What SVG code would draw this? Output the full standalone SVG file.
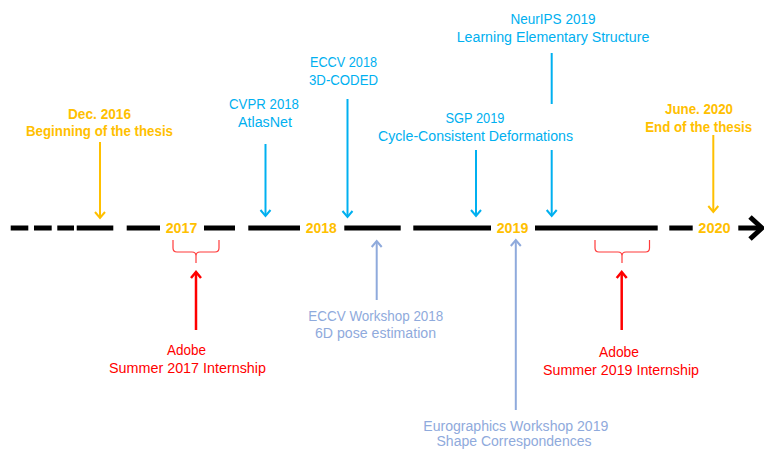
<svg xmlns="http://www.w3.org/2000/svg" width="764" height="450" viewBox="0 0 764 450">
<style>
text{font-family:"Liberation Sans",Arial,sans-serif;font-size:14px;text-anchor:middle}
.b{font-weight:bold}
.or{fill:#FFC000}
.bl{fill:#00B0F0}
.lb{fill:#8FAADC}
.rd{fill:#FF0000}
.tl{stroke:#000;stroke-width:5;fill:none}
.cor{stroke:#FFC000;stroke-width:2;fill:none}
.cbl{stroke:#00B0F0;stroke-width:2;fill:none}
.clb{stroke:#8FAADC;stroke-width:2;fill:none}
.crd{stroke:#FF0000;stroke-width:2.5;fill:none}
.brace{stroke:#FF3B3B;stroke-width:1.2;fill:none}
</style>
<defs>
<marker id="aor" markerUnits="userSpaceOnUse" viewBox="-9 -7 11 14" markerWidth="11" markerHeight="14" refX="0" refY="0" orient="auto"><path d="M-6,-5 L0,0 L-6,5" fill="none" stroke="#FFC000" stroke-width="2"/></marker>
<marker id="abl" markerUnits="userSpaceOnUse" viewBox="-9 -7 11 14" markerWidth="11" markerHeight="14" refX="0" refY="0" orient="auto"><path d="M-6,-5 L0,0 L-6,5" fill="none" stroke="#00B0F0" stroke-width="2"/></marker>
<marker id="alb" markerUnits="userSpaceOnUse" viewBox="-9 -7 11 14" markerWidth="11" markerHeight="14" refX="0" refY="0" orient="auto"><path d="M-6,-5 L0,0 L-6,5" fill="none" stroke="#8FAADC" stroke-width="2"/></marker>
<marker id="ard" markerUnits="userSpaceOnUse" viewBox="-9 -7 11 14" markerWidth="11" markerHeight="14" refX="0" refY="0" orient="auto"><path d="M-6,-5 L0,0 L-6,5" fill="none" stroke="#FF0000" stroke-width="2.5"/></marker>
</defs>
<rect width="764" height="450" fill="#fff"/>

<g id="timeline">
<path class="tl" d="M10.7,228H28.3 M34,228H51.7 M57.3,228H74 M76.7,228H113.3 M126.7,228H160 M204,228H235 M248.3,228H300 M344.3,228H400.7 M413.3,228H491 M535,228H657.7 M669.3,228H692.7 M738.3,228H761"/>
<polyline class="tl" points="750,217 762,228 750,239" stroke-linejoin="miter"/>
</g>

<g id="connectors">
<line class="cor" x1="100" y1="142" x2="100" y2="218" marker-end="url(#aor)"/>
<line class="cbl" x1="265.5" y1="144" x2="265.5" y2="216" marker-end="url(#abl)"/>
<line class="cbl" x1="347.5" y1="99" x2="347.5" y2="217" marker-end="url(#abl)"/>
<line class="cbl" x1="476" y1="150" x2="476" y2="216" marker-end="url(#abl)"/>
<line class="cbl" x1="551.7" y1="53" x2="551.7" y2="104"/>
<line class="cbl" x1="551.7" y1="150" x2="551.7" y2="216" marker-end="url(#abl)"/>
<line class="cor" x1="713.3" y1="135" x2="713.3" y2="212" marker-end="url(#aor)"/>
<line class="clb" x1="376.7" y1="300" x2="376.7" y2="241" marker-end="url(#alb)"/>
<line class="clb" x1="515.8" y1="410" x2="515.8" y2="240" marker-end="url(#alb)"/>
<line class="crd" x1="196" y1="330" x2="196" y2="272" marker-end="url(#ard)"/>
<line class="crd" x1="621.7" y1="330" x2="621.7" y2="272" marker-end="url(#ard)"/>
<path class="brace" d="M173,240 V248 Q173,252 177,252 H192 Q196,252 196,256 V263 M196,256 Q196,252 200,252 H215 Q219,252 219,248 V240"/>
<path class="brace" d="M595,240 V248 Q595,252 599,252 H618 Q622,252 622,256 V263 M622,256 Q622,252 626,252 H645.5 Q649.5,252 649.5,248 V240"/>
</g>

<g id="year-2017"><text class="b or" x="181.5" y="233" textLength="31.6" lengthAdjust="spacingAndGlyphs">2017</text></g>
<g id="year-2018"><text class="b or" x="321.2" y="233" textLength="31" lengthAdjust="spacingAndGlyphs">2018</text></g>
<g id="year-2019"><text class="b or" x="512.5" y="233" textLength="31.6" lengthAdjust="spacingAndGlyphs">2019</text></g>
<g id="year-2020"><text class="b or" x="714.5" y="233" textLength="32.4" lengthAdjust="spacingAndGlyphs">2020</text></g>

<g id="thesis-start">
<text class="b or" x="99.5" y="119" textLength="63" lengthAdjust="spacingAndGlyphs">Dec. 2016</text>
<text class="b or" x="99.5" y="136" textLength="147" lengthAdjust="spacingAndGlyphs">Beginning of the thesis</text>
</g>
<g id="cvpr2018">
<text class="bl" x="264" y="109" textLength="70" lengthAdjust="spacingAndGlyphs">CVPR 2018</text>
<text class="bl" x="265" y="127" textLength="54" lengthAdjust="spacingAndGlyphs">AtlasNet</text>
</g>
<g id="eccv2018">
<text class="bl" x="343.5" y="67" textLength="67" lengthAdjust="spacingAndGlyphs">ECCV 2018</text>
<text class="bl" x="343.5" y="85" textLength="69" lengthAdjust="spacingAndGlyphs">3D-CODED</text>
</g>
<g id="sgp2019">
<text class="bl" x="475" y="123" textLength="59" lengthAdjust="spacingAndGlyphs">SGP 2019</text>
<text class="bl" x="475.5" y="141" textLength="195" lengthAdjust="spacingAndGlyphs">Cycle-Consistent Deformations</text>
</g>
<g id="neurips2019">
<text class="bl" x="553" y="24" textLength="85" lengthAdjust="spacingAndGlyphs">NeurIPS 2019</text>
<text class="bl" x="553" y="42" textLength="192.6" lengthAdjust="spacingAndGlyphs">Learning Elementary Structure</text>
</g>
<g id="thesis-end">
<text class="b or" x="699" y="114" textLength="68" lengthAdjust="spacingAndGlyphs">June. 2020</text>
<text class="b or" x="698.7" y="132" textLength="107" lengthAdjust="spacingAndGlyphs">End of the thesis</text>
</g>
<g id="eccv-workshop2018">
<text class="lb" x="375.8" y="321" textLength="135" lengthAdjust="spacingAndGlyphs">ECCV Workshop 2018</text>
<text class="lb" x="375.5" y="338" textLength="121" lengthAdjust="spacingAndGlyphs">6D pose estimation</text>
</g>
<g id="adobe2017">
<text class="rd" x="186.5" y="355" textLength="39" lengthAdjust="spacingAndGlyphs">Adobe</text>
<text class="rd" x="187.5" y="373" textLength="157" lengthAdjust="spacingAndGlyphs">Summer 2017 Internship</text>
</g>
<g id="adobe2019">
<text class="rd" x="619" y="357" textLength="40" lengthAdjust="spacingAndGlyphs">Adobe</text>
<text class="rd" x="621" y="375" textLength="156" lengthAdjust="spacingAndGlyphs">Summer 2019 Internship</text>
</g>
<g id="eg-workshop2019">
<text class="lb" x="515.8" y="431" textLength="185" lengthAdjust="spacingAndGlyphs">Eurographics Workshop 2019</text>
<text class="lb" x="514" y="446" textLength="155" lengthAdjust="spacingAndGlyphs">Shape Correspondences</text>
</g>
</svg>
